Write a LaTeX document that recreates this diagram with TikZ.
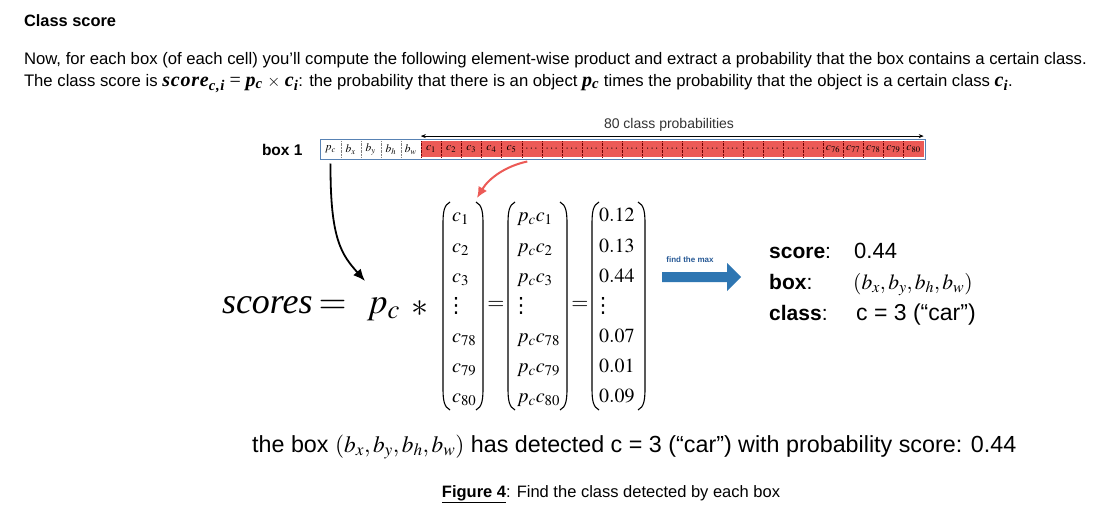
\documentclass[tikz,border=0pt]{standalone}
\usepackage{mathptmx}
\usepackage{fontspec}
\setmainfont{Liberation Sans}
\newfontfamily\tms{Liberation Serif}
\newfontfamily\tmsbig[Scale=1.2,LetterSpace=4]{Liberation Serif}
\newfontfamily\djv{DejaVu Sans}
\usetikzlibrary{arrows.meta}
\definecolor{cellred}{RGB}{236,90,86}
\definecolor{stripblue}{RGB}{88,130,180}
\definecolor{maxblue}{RGB}{46,118,178}
\definecolor{lblblue}{RGB}{40,90,150}
\newcommand{\bimath}[1]{{\tmsbig\bfseries\itshape #1}}
\newcommand{\mylp}[3]{\draw[paren] (#1+7,#2) .. controls (#1+1,#2+3) and (#1,#2+10) .. (#1,#2+22) -- (#1,#3-22) .. controls (#1,#3-10) and (#1+1,#3-3) .. (#1+7,#3);}
\newcommand{\myrp}[3]{\draw[paren] (#1-7,#2) .. controls (#1-1,#2+3) and (#1,#2+10) .. (#1,#2+22) -- (#1,#3-22) .. controls (#1,#3-10) and (#1-1,#3-3) .. (#1-7,#3);}
\begin{document}
\begin{tikzpicture}[x=1pt,y=-1pt,
  txt/.style={anchor=base west,inner sep=0pt,outer sep=0pt},
  cellbox/.style={minimum width=20.1pt,minimum height=16pt,inner sep=0pt,font=\fontsize{11.5}{12}\selectfont},
  entry/.style={anchor=base west,inner sep=0pt,font=\fontsize{20}{24}\selectfont},
  dotsnode/.style={anchor=center,inner sep=0pt,font=\djv\fontsize{21}{24}\selectfont},
  paren/.style={line width=1.1pt,black},
  bigtxt/.style={anchor=base west,inner sep=0pt,font=\fontsize{22}{26}\selectfont}]
\useasboundingbox (0,0) rectangle (1120,514);
\fill[white] (0,0) rectangle (1120,514);

% header text
\node[txt,font=\bfseries\fontsize{16.4}{19}\selectfont] (title) at (24,27) {Class score};
\node[txt,font=\fontsize{16.7}{19}\selectfont] (line1) at (24,64) {Now, for each box (of each cell) you'll compute the following element-wise product and extract a probability that the box contains a certain class.};
\node[txt,font=\fontsize{16.7}{19}\selectfont] (line2) at (24,86) {The class score is \bimath{score}\textsubscript{\bimath{c,i}} {\tmsbig=} \bimath{p}\textsubscript{\bimath{c}} {\tmsbig$\times$} \bimath{c}\textsubscript{\bimath{i}}: the probability that there is an object \bimath{p}\textsubscript{\bimath{c}} times the probability that the object is a certain class \bimath{c}\textsubscript{\bimath{i}}.};

% strip
\node[txt,font=\bfseries\fontsize{15.5}{18}\selectfont] (box1) at (262,155) {box 1};
\foreach \i in {0,...,29}{
  \ifnum\i<5
    \node[cellbox] (cell\i) at (320.5+\i*20.1+10.05,149.3) {};
  \else
    \node[cellbox,fill=cellred] (cell\i) at (320.5+\i*20.1+10.05,149.3) {};
  \fi
}
\foreach \i/\t in {0/p_c,1/b_x,2/b_y,3/b_h,4/b_w,5/c_1,6/c_2,7/c_3,8/c_4,9/c_5,25/c_{76},26/c_{77},27/c_{78},28/c_{79},29/c_{80}}
  \node[cellbox] at (cell\i) {$\t$};
\foreach \i in {10,...,24}
  \node[cellbox] at (cell\i) {$\cdots$};
\foreach \i in {0,...,3}
  \draw[gray,densely dotted] (cell\i.north east) -- (cell\i.south east);
\foreach \i in {4,...,28}
  \draw[red!45!black,densely dotted] (cell\i.north east) -- (cell\i.south east);
\draw[stripblue,line width=0.9pt] ([yshift=1.5pt]cell0.north west) rectangle ([xshift=2pt,yshift=-1.5pt]cell29.south east);

\draw[{Stealth[length=5pt,width=4pt]}-{Stealth[length=5pt,width=4pt]},line width=0.7pt] ([yshift=5pt]cell5.north west) -- ([yshift=5pt]cell29.north east);
\node[font=\fontsize{14}{16}\selectfont,text=black!80] (lbl80) at (669,125) {80 class probabilities};

% equation
\node[txt,font=\fontsize{36}{40}\selectfont] (scores) at (222,313) {{\tms\itshape scores}\,$=$};
\node[txt,font=\fontsize{36}{40}\selectfont] (pc) at (367,313) {$p_c$};
\node[font=\fontsize{34}{36}\selectfont] (ast) at (420,309) {$\ast$};

% matrix 1
\foreach \y/\t in {221/c_1,252/c_2,282/c_3,342/c_{78},372/c_{79},402/c_{80}}
  \node[entry] at (452,\y) {$\t$};
\node[dotsnode] (m1dots) at (456,306) {⋮};
\mylp{443}{202}{410}
\myrp{483}{202}{410}
\node[font=\fontsize{22}{24}\selectfont,inner sep=0pt] (eq1) at (496,305) {$=$};
% matrix 2
\foreach \y/\t in {221/p_cc_1,252/p_cc_2,282/p_cc_3,342/p_cc_{78},372/p_cc_{79},402/p_cc_{80}}
  \node[entry] at (517,\y) {$\t$};
\node[dotsnode] (m2dots) at (521,306) {⋮};
\mylp{508}{202}{410}
\myrp{567}{202}{410}
\node[font=\fontsize{22}{24}\selectfont,inner sep=0pt] (eq2) at (580,305) {$=$};
% matrix 3
\foreach \y/\t in {221/0.12,252/0.13,282/0.44,342/0.07,372/0.01,402/0.09}
  \node[entry] at (599,\y) {$\t$};
\node[dotsnode] (m3dots) at (603,306) {⋮};
\mylp{592}{202}{410}
\myrp{645}{202}{410}

% arrows
\coordinate (tipA) at (365,281);
\draw[line width=1.8pt,-{Latex[length=12pt,width=10pt]}] ([yshift=-6pt]cell0.south) .. controls (330,240) and (342,255) .. (tipA);
\coordinate (tipB) at (477,198);
\draw[cellred,line width=2pt,-{Latex[length=11pt,width=10pt]}] ([xshift=6pt,yshift=-4pt]cell10.south west) .. controls (506,166) and (489,178) .. (tipB);

% find the max
\node[font=\bfseries\fontsize{8}{9}\selectfont,text=lblblue] (fmax) at (690,260) {find the max};
\fill[maxblue] (662,272) -- (727,272) -- (727,263) -- (741,277) -- (727,291) -- (727,282) -- (662,282) -- cycle;

% result block
\node[bigtxt,font=\fontsize{21}{26}\selectfont] (sc) at (769,258) {\textbf{score}:};
\node[bigtxt,font=\fontsize{21}{26}\selectfont] (bx) at (769,289) {\textbf{box}:};
\node[bigtxt,font=\fontsize{21}{26}\selectfont] (cl) at (769,320) {\textbf{class}:};
\node[bigtxt] (scv) at (854,258) {0.44};
\node[bigtxt,font=\fontsize{21.5}{26}\selectfont] (bxv) at (853,289) {$(b_x,\!\,b_y,\!\,b_h,\!\,b_w)$};
\node[bigtxt,font=\fontsize{23}{26}\selectfont] (clv) at (856,320) {c = 3 (“car”)};

% bottom
\node[bigtxt,font=\fontsize{23.3}{27}\selectfont] (bottom) at (252,452) {the box $(b_x,b_y,b_h,b_w)$ has detected c = 3 (“car”) with probability score: 0.44};
\node[font=\fontsize{16.5}{19}\selectfont,anchor=base,inner sep=0pt] (cap) at (611,497) {\underline{\textbf{Figure 4}}: Find the class detected by each box};
\end{tikzpicture}
\end{document}
